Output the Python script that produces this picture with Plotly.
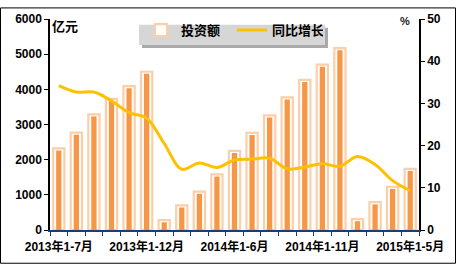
import plotly.graph_objects as go

categories = ["2013年1-7月", "2013年1-8月", "2013年1-9月", "2013年1-10月", "2013年1-11月", "2013年1-12月",
              "2014年1-2月", "2014年1-3月", "2014年1-4月", "2014年1-5月", "2014年1-6月", "2014年1-7月",
              "2014年1-8月", "2014年1-9月", "2014年1-10月", "2014年1-11月", "2014年1-12月",
              "2015年1-2月", "2015年1-3月", "2015年1-4月", "2015年1-5月"]
investment = [2320, 2770, 3290, 3730, 4090, 4500,
              280, 700, 1090, 1580, 2250, 2760,
              3260, 3770, 4270, 4700, 5170,
              310, 790, 1230, 1740]
growth = [34.2, 32.7, 32.7, 30.6, 27.8, 26.5,
          20.5, 14.4, 15.9, 14.8, 16.6, 16.8,
          17.0, 14.5, 14.9, 15.7, 15.1,
          17.4, 15.5, 11.7, 9.3]
tick_labels = [c if i % 5 == 0 else "" for i, c in enumerate(categories)]

FONT = "Liberation Sans, Noto Sans CJK SC, sans-serif"

L, R, T, B = 50, 37, 12, 35
PW, PH = 456 - L - R, 266 - T - B


def px(x):
    return (x - L) / PW


def py(y):
    return (266 - B - y) / PH


fig = go.Figure()
fig.add_trace(go.Bar(x=categories, y=investment, name="投资额", width=0.64,
                     marker=dict(color="white", line=dict(color="#FCCFA8", width=2.2)),
                     showlegend=True))
fig.add_trace(go.Bar(x=categories, y=[v - 60 for v in investment], name="投资额", width=0.3,
                     marker=dict(color="#F79646", line=dict(width=0)), showlegend=False,
                     hoverinfo="skip"))
fig.add_trace(go.Scatter(x=categories, y=growth, name="同比增长", yaxis="y2", mode="lines",
                         line=dict(color="#FFC000", width=3, shape="spline", smoothing=1.0)))

fig.update_layout(
    width=456, height=266,
    margin=dict(l=L, r=R, t=T, b=B),
    paper_bgcolor="white", plot_bgcolor="white",
    barmode="overlay",
    font=dict(family=FONT, size=12, color="black"),
    showlegend=True,
    legend=dict(orientation="h", x=px(141), y=py(8), xanchor="left", yanchor="top",
                bgcolor="rgba(0,0,0,0)", borderwidth=0,
                font=dict(family=FONT, size=13, color="black", weight="bold"),
                itemwidth=30, tracegroupgap=0, entrywidth=46),
    xaxis=dict(type="category", tickmode="array", tickvals=categories, ticktext=tick_labels,
               tickson="boundaries", ticks="outside", ticklen=4, tickcolor="#1F3A78",
               showline=True, linecolor="#1F3A78", linewidth=1.5, tickangle=0, ticklabelstandoff=5,
               tickfont=dict(family=FONT, size=12, weight="bold"), showgrid=False),
    yaxis=dict(range=[0, 6000], dtick=1000, ticks="outside", ticklen=4, showline=True,
               linecolor="black", linewidth=1.5, tickcolor="black", showgrid=False, zeroline=False,
               tickfont=dict(family=FONT, size=12, weight="bold")),
    yaxis2=dict(range=[0, 50], dtick=10, overlaying="y", side="right", ticks="outside", ticklen=4,
                showline=True, linecolor="black", linewidth=1.5, tickcolor="black", showgrid=False,
                zeroline=False, tickfont=dict(family=FONT, size=12, weight="bold")),
    annotations=[
        dict(text="<b>亿元</b>", xref="paper", yref="paper", x=0.0, y=py(20), xanchor="left",
             yanchor="middle", showarrow=False, font=dict(family=FONT, size=13)),
        dict(text="<b>%</b>", xref="paper", yref="paper", x=px(412), y=py(14), xanchor="right",
             yanchor="middle", showarrow=False, font=dict(family=FONT, size=11, color="#222222")),
    ],
    shapes=[
        dict(type="rect", xref="paper", yref="paper",
             x0=px(142), x1=px(328), y0=py(42), y1=py(21),
             line=dict(width=0), fillcolor="#A9A9A9", layer="above"),
        dict(type="rect", xref="paper", yref="paper",
             x0=px(139), x1=px(325), y0=py(39), y1=py(18),
             line=dict(width=0), fillcolor="#D6D6D6", layer="above"),
        dict(type="rect", xref="paper", yref="paper",
             x0=px(0.5), x1=px(455.5), y0=py(265.5), y1=py(0.5),
             line=dict(color="black", width=1), fillcolor="rgba(0,0,0,0)", layer="above"),
    ],
)

fig.write_html("out.html")
